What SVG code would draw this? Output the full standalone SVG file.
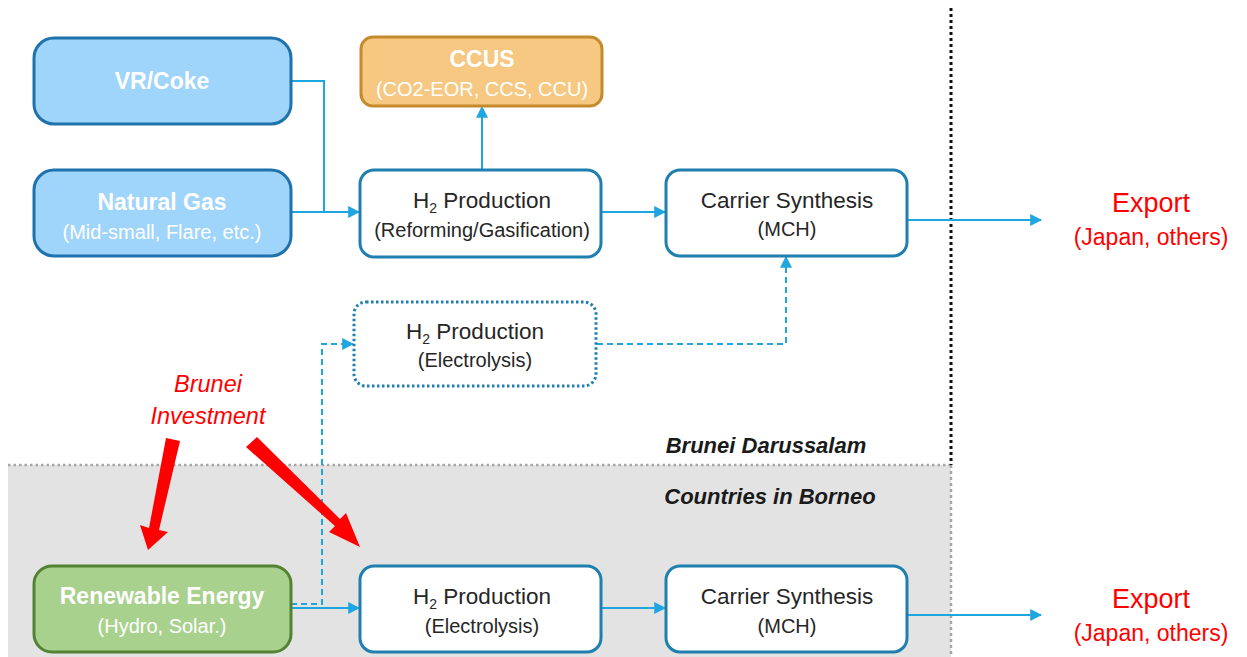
<svg xmlns="http://www.w3.org/2000/svg" width="1247" height="657" viewBox="0 0 1247 657">
  <style>
    text { font-family: "Liberation Sans", Arial, sans-serif; text-anchor: middle; }
    .box { fill: #ffffff; stroke: #1f7fae; stroke-width: 3; }
    .blue { fill: #9fd4fb; stroke: #1f72ac; stroke-width: 3; }
    .orange { fill: #f6c882; stroke: #c58a2c; stroke-width: 3; }
    .green { fill: #a9d18e; stroke: #548235; stroke-width: 3; }
    .t1 { font-size: 22.5px; fill: #262626; }
    .t2 { font-size: 20px; fill: #262626; }
    .w1 { font-size: 23px; fill: #ffffff; font-weight: bold; }
    .w2 { font-size: 20px; fill: #ffffff; }
    .red1 { font-size: 27px; fill: #ff0000; }
    .red2 { font-size: 23px; fill: #ff0000; }
    .inv { font-size: 23.5px; fill: #ff0000; font-style: italic; }
    .region { font-size: 22px; fill: #1a1a1a; font-weight: bold; font-style: italic; }
    .conn { fill: none; stroke: #1fa5df; stroke-width: 2; }
    .dash { stroke-dasharray: 6 4; }
  </style>
  <defs>
    <marker id="arrW" viewBox="0 0 10 10" refX="9" refY="5" markerWidth="12" markerHeight="12" orient="auto" markerUnits="userSpaceOnUse">
      <path d="M0,0 L10,5 L0,10 z" fill="#1fa5df"/>
    </marker>
  </defs>

  <!-- background regions -->
  <g id="regions">
    <rect x="0" y="0" width="1247" height="657" fill="#ffffff"/>
    <rect x="8" y="465" width="943" height="192" fill="#e3e3e3"/>
    <line x1="8" y1="465" x2="951" y2="465" stroke="#a6a6a6" stroke-width="2.5" stroke-dasharray="2.5 3"/>
    <line x1="951" y1="8" x2="951" y2="465" stroke="#111111" stroke-width="3" stroke-dasharray="3 3"/>
    <line x1="951" y1="465" x2="951" y2="657" stroke="#a6a6a6" stroke-width="2.5" stroke-dasharray="3 3"/>
    <text class="region" x="766" y="453">Brunei Darussalam</text>
    <text class="region" x="770" y="504">Countries in Borneo</text>
  </g>

  <!-- connectors -->
  <g id="connectors">
    <polyline class="conn" points="291,81 324,81 324,212"/>
    <line class="conn" x1="291" y1="212" x2="359" y2="212" marker-end="url(#arrW)"/>
    <line class="conn" x1="482" y1="170" x2="482" y2="107" marker-end="url(#arrW)"/>
    <line class="conn" x1="601" y1="212" x2="665" y2="212" marker-end="url(#arrW)"/>
    <line class="conn" x1="907" y1="220" x2="1041" y2="220" marker-end="url(#arrW)"/>
    <polyline class="conn dash" points="597,344 786,344 786,257" marker-end="url(#arrW)"/>
    <polyline class="conn dash" points="291,604 322,604 322,344 353,344" marker-end="url(#arrW)"/>
    <line class="conn" x1="291" y1="608" x2="359" y2="608" marker-end="url(#arrW)"/>
    <line class="conn" x1="601" y1="608" x2="665" y2="608" marker-end="url(#arrW)"/>
    <line class="conn" x1="907" y1="615" x2="1041" y2="615" marker-end="url(#arrW)"/>
    <!-- investment arrows -->
    <polygon points="166,438 180,441 159,530 168,532 148,550 140,525 149,528" fill="#ff0000"/>
    <polygon points="246,447 257,437 340,519 346,513 360,547 329,532 335,526" fill="#ff0000"/>
  </g>

  <g id="vr-coke">
    <rect class="blue" x="34" y="38" width="257" height="86" rx="20"/>
    <text class="w1" x="162" y="89">VR/Coke</text>
  </g>
  <g id="natural-gas">
    <rect class="blue" x="34" y="170" width="257" height="86" rx="20"/>
    <text class="w1" x="162" y="210">Natural Gas</text>
    <text class="w2" x="162" y="239">(Mid-small, Flare, etc.)</text>
  </g>
  <g id="ccus">
    <rect class="orange" x="361" y="37" width="241" height="69" rx="12"/>
    <text class="w1" x="482" y="67">CCUS</text>
    <text class="w2" x="482" y="96">(CO2-EOR, CCS, CCU)</text>
  </g>
  <g id="h2-reforming">
    <rect class="box" x="360" y="170" width="241" height="87" rx="14"/>
    <text class="t1" x="482" y="208">H<tspan font-size="14" dy="5">2</tspan><tspan dy="-5"> Production</tspan></text>
    <text class="t2" x="482" y="237">(Reforming/Gasification)</text>
  </g>
  <g id="carrier-top">
    <rect class="box" x="666" y="170" width="241" height="86" rx="14"/>
    <text class="t1" x="787" y="208">Carrier Synthesis</text>
    <text class="t2" x="787" y="236">(MCH)</text>
  </g>
  <g id="export-top">
    <text class="red1" x="1151" y="212">Export</text>
    <text class="red2" x="1151" y="245">(Japan, others)</text>
  </g>
  <g id="h2-electrolysis-planned">
    <rect x="354" y="302" width="242" height="84" rx="12" fill="#ffffff" stroke="#1f7fae" stroke-width="3" stroke-dasharray="2.5 2.5"/>
    <text class="t1" x="475" y="339">H<tspan font-size="14" dy="5">2</tspan><tspan dy="-5"> Production</tspan></text>
    <text class="t2" x="475" y="367">(Electrolysis)</text>
  </g>
  <g id="brunei-investment">
    <text class="inv" x="208" y="392">Brunei</text>
    <text class="inv" x="208" y="424">Investment</text>
  </g>
  <g id="renewable">
    <rect class="green" x="34" y="566" width="257" height="86" rx="18"/>
    <text class="w1" x="162" y="604">Renewable Energy</text>
    <text class="w2" x="162" y="633">(Hydro, Solar.)</text>
  </g>
  <g id="h2-electrolysis">
    <rect class="box" x="360" y="566" width="241" height="86" rx="14"/>
    <text class="t1" x="482" y="604">H<tspan font-size="14" dy="5">2</tspan><tspan dy="-5"> Production</tspan></text>
    <text class="t2" x="482" y="633">(Electrolysis)</text>
  </g>
  <g id="carrier-bottom">
    <rect class="box" x="666" y="566" width="241" height="86" rx="14"/>
    <text class="t1" x="787" y="604">Carrier Synthesis</text>
    <text class="t2" x="787" y="633">(MCH)</text>
  </g>
  <g id="export-bottom">
    <text class="red1" x="1151" y="608">Export</text>
    <text class="red2" x="1151" y="641">(Japan, others)</text>
  </g>
</svg>
